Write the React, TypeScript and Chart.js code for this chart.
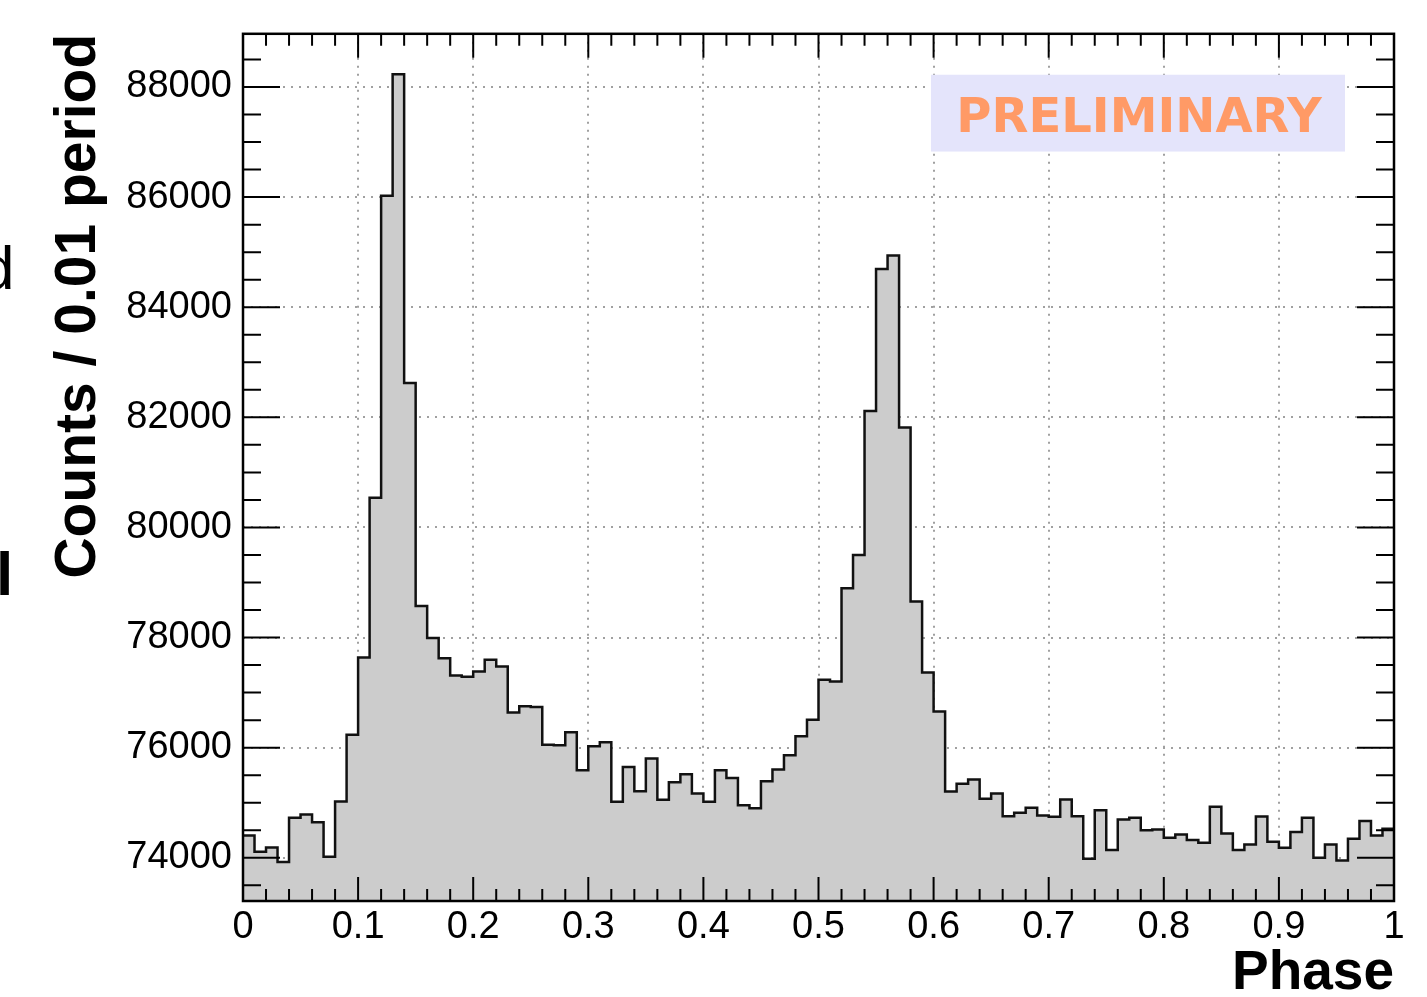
import React, { useEffect, useRef } from "react";
import { Chart, registerables } from "chart.js";

Chart.register(...registerables);

// ---- data (counts per 0.01-phase bin) ----
const countsA = [
  74406, 74110, 74188, 73922, 74727, 74787, 74647, 74020, 75022, 76236,
  77638, 80538, 86024, 88230, 82622, 78575, 77990, 77626, 77310, 77290,
  77384, 77596, 77474, 76641, 76750,
];
const countsB = [
  76738, 76055, 76043, 76278, 75590, 76025, 76097, 75016, 75651, 75209,
  75801, 75052, 75373, 75517, 75167, 75016, 75590, 75451, 74955, 74900,
  75390, 75602, 75862, 76206, 76508,
];
const countsC = [
  77233, 77203, 78895, 79499, 82115, 84695, 84937, 81813, 78653, 77366,
  76659, 75203, 75343, 75421, 75071, 75167, 74756, 74817, 74908, 74768,
  74745, 75058, 74756, 73983, 74864,
];
const countsD = [
  74140, 74696, 74727, 74502, 74514, 74364, 74424, 74321, 74273, 74926,
  74442, 74140, 74243, 74751, 74291, 74182, 74467, 74727, 74000, 74243,
  73952, 74346, 74666, 74406, 74527,
];
const counts = [...countsA, ...countsB, ...countsC, ...countsD];
const binWidth = 0.01;
const phaseMin = 0;
const phaseMax = 1;
const yMin = 73215;
const yMax = 88966;
const yTickValues = [74000, 76000, 78000, 80000, 82000, 84000, 86000, 88000];
const xTickValues = [0, 0.1, 0.2, 0.3, 0.4, 0.5, 0.6, 0.7, 0.8, 0.9, 1];
const yMinorStep = 500;
const xMinorStep = 0.02;

const xTitle = "Phase";
const yTitle = "Counts / 0.01 period";
const stamp = "PRELIMINARY";

// stepped line: each bin's value is attached to its upper edge; a leading
// point at the lower edge opens the outline
const histPoints = [{ x: phaseMin, y: counts[0] }].concat(
  counts.map((c, i) => ({ x: phaseMin + (i + 1) * binWidth, y: c }))
);

const FONT = "'Liberation Sans', Arial, Helvetica, sans-serif";

const frameAndTicks = {
  id: "frameAndTicks",
  afterDatasetsDraw(chart: any) {
    const { ctx, chartArea: a } = chart;
    const x = chart.scales.x;
    const y = chart.scales.y;
    ctx.save();
    // PRELIMINARY stamp
    const w = a.right - a.left;
    const h = a.bottom - a.top;
    const bx0 = a.left + 0.5977 * w;
    const bx1 = a.left + 0.9574 * w;
    const by0 = a.top + 0.0472 * h;
    const by1 = a.top + 0.1358 * h;
    ctx.fillStyle = "#e4e4fb";
    ctx.fillRect(bx0, by0, bx1 - bx0, by1 - by0);
    ctx.fillStyle = "#ff9a66";
    ctx.font = "bold 48px 'DejaVu Sans', Verdana, sans-serif";
    ctx.textAlign = "center";
    ctx.textBaseline = "alphabetic";
    ctx.fillText(stamp, (bx0 + bx1) / 2 + 1, by0 + 0.745 * (by1 - by0));

    // ticks (ROOT style, inside the frame on all four sides)
    ctx.strokeStyle = "#000";
    ctx.lineWidth = 2;
    ctx.beginPath();
    const nx = Math.round((phaseMax - phaseMin) / xMinorStep);
    for (let k = 0; k <= nx; k++) {
      const v = phaseMin + k * xMinorStep;
      const px = x.getPixelForValue(v);
      const major = xTickValues.some((t) => Math.abs(t - v) < 1e-9);
      const L = major ? 24 : 12;
      ctx.moveTo(px, a.bottom);
      ctx.lineTo(px, a.bottom - L);
      ctx.moveTo(px, a.top);
      ctx.lineTo(px, a.top + L);
    }
    const vStart = Math.ceil(yMin / yMinorStep) * yMinorStep;
    for (let v = vStart; v <= yMax; v += yMinorStep) {
      const py = y.getPixelForValue(v);
      const major = yTickValues.includes(v);
      const L = major ? 37 : 18;
      ctx.moveTo(a.left, py);
      ctx.lineTo(a.left + L, py);
      ctx.moveTo(a.right, py);
      ctx.lineTo(a.right - L, py);
    }
    ctx.stroke();
    ctx.lineWidth = 2.5;
    ctx.strokeRect(a.left, a.top, a.right - a.left, a.bottom - a.top);
    ctx.restore();
  },
};

export default function App() {
  const ref = useRef<HTMLCanvasElement | null>(null);
  useEffect(() => {
    if (!ref.current) return;
    const chart = new Chart(ref.current, {
      type: "line",
      data: {
        datasets: [
          {
            data: histPoints,
            stepped: "after",
            borderColor: "#111111",
            borderWidth: 2.5,
            backgroundColor: "#cccccc",
            fill: "start",
            pointRadius: 0,
            tension: 0,
          },
        ],
      },
      options: {
        responsive: false,
        animation: false,
        devicePixelRatio: 1,
        layout: { padding: { left: 0, right: 33, top: 32, bottom: 0 } },
        plugins: {
          legend: { display: false },
          tooltip: { enabled: false },
        },
        scales: {
          x: {
            type: "linear",
            min: phaseMin,
            max: phaseMax,
            afterBuildTicks: (s: any) => {
              s.ticks = xTickValues.map((value) => ({ value }));
            },
            ticks: {
              color: "#000",
              font: { family: FONT, size: 38 },
              padding: 4,
              maxRotation: 0,
              autoSkip: false,
              callback: (v: any) => String(Math.round(Number(v) * 10) / 10),
            },
            grid: {
              color: "#a0a0a0",
              lineWidth: 2,
              drawTicks: false,
            },
            border: { display: false, dash: [2, 6] },
            title: {
              display: true,
              text: xTitle,
              align: "end",
              color: "#000",
              font: { family: FONT, size: 55, weight: "bold", lineHeight: 0.8 },
              padding: { top: 0, bottom: 1 },
            },
            afterFit: (s: any) => {
              s.height = 96;
            },
          },
          y: {
            type: "linear",
            min: yMin,
            max: yMax,
            afterBuildTicks: (s: any) => {
              s.ticks = yTickValues.map((value) => ({ value }));
            },
            ticks: {
              color: "#000",
              font: { family: FONT, size: 38 },
              padding: 11,
              autoSkip: false,
              callback: (v: any) => String(v),
            },
            grid: {
              color: "#a0a0a0",
              lineWidth: 2,
              drawTicks: false,
            },
            border: { display: false, dash: [2, 6] },
            title: {
              display: true,
              text: yTitle,
              align: "end",
              color: "#000",
              font: { family: FONT, size: 57, weight: "bold", lineHeight: 1 },
              padding: { top: 51, bottom: 0 },
            },
            afterFit: (s: any) => {
              s.width = 243;
            },
          },
        },
      },
      plugins: [frameAndTicks],
    });
    return () => chart.destroy();
  }, []);

  return (
    <div
      style={{
        position: "fixed",
        left: 0,
        top: 0,
        width: 1427,
        height: 997,
        overflow: "hidden",
        background: "#fff",
      }}
    >
      <canvas
        ref={ref}
        width={1427}
        height={997}
        style={{ position: "absolute", left: 0, top: 0, width: 1427, height: 997 }}
      />
      <span
        style={{
          position: "absolute",
          left: -20,
          top: 237,
          fontFamily: FONT,
          fontSize: 62,
          lineHeight: "62px",
          color: "#000",
        }}
      >
        d
      </span>
      <span
        style={{
          position: "absolute",
          left: -4,
          top: 543,
          fontFamily: FONT,
          fontSize: 62,
          lineHeight: "62px",
          color: "#000",
          fontWeight: "bold",
        }}
      >
        l
      </span>
    </div>
  );
}
